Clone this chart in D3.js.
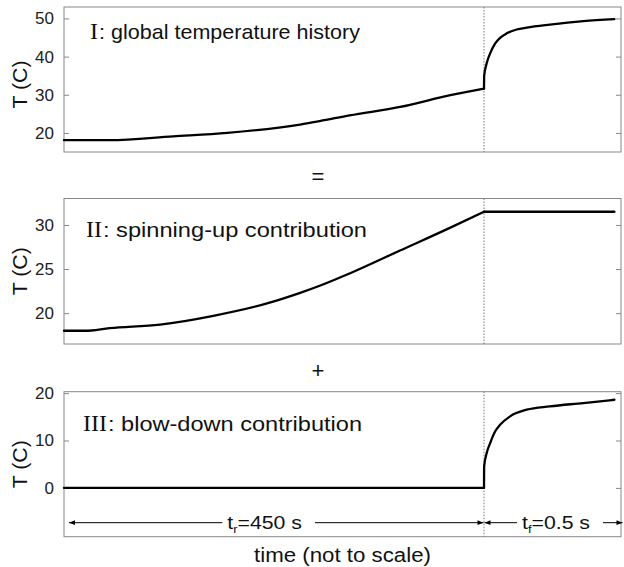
<!DOCTYPE html>
<html>
<head>
<meta charset="utf-8">
<script src="https://cdn.jsdelivr.net/npm/d3@7"></script>
<style>
  body { margin: 0; background: #fff; }
  text { font-family: "Liberation Sans", Arial, sans-serif; }
</style>
</head>
<body>
<svg id="chart" width="624" height="567"></svg>
<script>
// panel I: global temperature history
const histTime = [0, 49, 117, 175, 253, 274, 306, 360, 414, 450,
  450.0005, 450.010, 450.023, 450.042, 450.061, 450.086, 450.124, 450.162, 450.250, 450.377, 450.495];
const histTemp = [18.1, 18.1, 19.1, 20.0, 22.2, 23.1, 24.6, 26.8, 29.9, 31.6,
  34.9, 38.2, 40.8, 43.4, 44.9, 46.1, 47.1, 47.6, 48.4, 49.3, 49.8];

// panel II: spinning-up contribution
const spinTime = [0, 22.5, 49, 103, 160, 217.5, 253, 274, 306, 360, 414, 450, 450.495];
const spinTemp = [18.0, 18.0, 18.3, 18.7, 19.7, 21.1, 22.3, 23.1, 24.5, 27.1, 29.7, 31.5, 31.5];

// panel III: blow-down contribution
const blowTime = [0, 450, 450.0005, 450.010, 450.023, 450.042, 450.061, 450.099, 450.162, 450.250, 450.377, 450.495];
const blowTemp = [0, 0, 4.5, 7.3, 9.4, 11.9, 13.3, 15.1, 16.5, 17.2, 17.9, 18.6];

const histTicks = [20, 30, 40, 50];
const spinTicks = [20, 25, 30];
const blowTicks = [0, 10, 20];

const numerals = ['I', 'II', 'III'];
const titles = [': global temperature history', ': spinning-up contribution', ': blow-down contribution'];

const riseEnd = 450;     // t_r
const timeEnd = 450.52;  // end of the (not to scale) axis

const svg = d3.select('#chart');
const left = 64, right = 621;
const boxColor = '#888';
const stretch = 1.18;    // the original figure is a bit wider than tall

// piecewise x scale: the ramp and the blow-down get separate widths
const x = d3.scaleLinear()
  .domain([0, riseEnd, timeEnd])
  .range([left, 484, right]);

const panels = [
  { time: histTime, temp: histTemp, ticks: histTicks, domain: [15, 53], top: 7, bottom: 152,
    labelDy: 5, titleX: 90, titleY: 39, titleEnd: 360 },
  { time: spinTime, temp: spinTemp, ticks: spinTicks, domain: [16.5, 33], top: 198.5, bottom: 344,
    labelDy: 0, titleX: 86, titleY: 236.5, titleEnd: 367 },
  { time: blowTime, temp: blowTemp, ticks: blowTicks, domain: [-10.3, 20.3], top: 391.7, bottom: 536.7,
    labelDy: 0, titleX: 83, titleY: 430.5, titleEnd: 362 }
];

panels.forEach((p, i) => {
  let y = d3.scaleLinear().domain(p.domain).range([p.bottom, p.top]);
  let g = svg.append('g');

  // box
  g.append('rect')
    .attr('x', left).attr('y', p.top)
    .attr('width', right - left).attr('height', p.bottom - p.top)
    .attr('fill', 'none').attr('stroke', boxColor).attr('stroke-width', 1);

  // ticks inward on both sides
  let axL = d3.axisLeft(y).tickValues(p.ticks).tickSize(-5).tickPadding(10);
  let axR = d3.axisRight(y).tickValues(p.ticks).tickSize(-5).tickFormat('');
  let gl = g.append('g').attr('transform', `translate(${left},0)`).call(axL);
  let gr = g.append('g').attr('transform', `translate(${right},0)`).call(axR);
  [gl, gr].forEach(a => {
    a.select('.domain').remove();
    a.selectAll('line').attr('stroke', boxColor);
  });
  gl.selectAll('text')
    .attr('font-size', 17)
    .attr('fill', '#222');

  // dotted separator at end of spin-up
  g.append('line')
    .attr('x1', x(riseEnd)).attr('x2', x(riseEnd))
    .attr('y1', p.top).attr('y2', p.bottom)
    .attr('stroke', '#777').attr('stroke-width', 1)
    .attr('stroke-dasharray', '1.5,1.5');

  // curve, drawn as two pieces so the corner at t_r stays sharp
  let pts = p.time.map((t, k) => [t, p.temp[k]]);
  let pieces = [pts.filter(d => d[0] <= riseEnd), pts.filter(d => d[0] >= riseEnd)];
  let line = d3.line()
    .x(d => x(d[0]))
    .y(d => y(d[1]))
    .curve(d3.curveMonotoneX);
  g.selectAll('.curve')
    .data(pieces)
    .enter().append('path')
    .attr('class', 'curve')
    .attr('d', line)
    .attr('fill', 'none')
    .attr('stroke', '#000')
    .attr('stroke-width', 2.3)
    .attr('stroke-linejoin', 'round')
    .attr('stroke-linecap', 'round');

  // y label
  let cy = (p.top + p.bottom) / 2 + p.labelDy;
  g.append('text')
    .attr('transform', `translate(27,${cy}) rotate(-90)`)
    .attr('text-anchor', 'middle')
    .attr('font-size', 20)
    .attr('textLength', 48)
    .attr('lengthAdjust', 'spacingAndGlyphs')
    .attr('fill', '#111')
    .text('T (C)');

  // panel title: serif numeral, then sans text stretched to the reference width
  let num = g.append('text')
    .attr('x', p.titleX).attr('y', p.titleY)
    .style('font-family', '"Liberation Serif", "Times New Roman", serif')
    .attr('font-size', 24)
    .attr('fill', '#111')
    .text(numerals[i]);
  let numEnd = p.titleX + num.node().getComputedTextLength() + 1;
  g.append('text')
    .attr('x', numEnd).attr('y', p.titleY)
    .attr('font-size', 21)
    .attr('textLength', p.titleEnd - numEnd)
    .attr('lengthAdjust', 'spacingAndGlyphs')
    .attr('fill', '#111')
    .text(titles[i]);
});

// operators between panels
svg.append('text').attr('x', 318).attr('y', 184).attr('text-anchor', 'middle')
  .attr('font-size', 22).attr('fill', '#111').text('=');
svg.append('text').attr('x', 318).attr('y', 378).attr('text-anchor', 'middle')
  .attr('font-size', 22).attr('fill', '#111').text('+');

// duration arrows in the bottom panel
let defs = svg.append('defs');
defs.append('marker')
  .attr('id', 'head')
  .attr('viewBox', '0 0 10 10')
  .attr('refX', 10).attr('refY', 5)
  .attr('markerWidth', 7).attr('markerHeight', 6)
  .attr('markerUnits', 'userSpaceOnUse')
  .attr('orient', 'auto-start-reverse')
  .append('path')
  .attr('d', 'M0,1 L10,5 L0,9 Z')
  .attr('fill', '#000');

const arrowY = 522.7;
function durationArrow(x0, x1, frac, label, sub, value) {
  let mid = x0 + (x1 - x0) * frac;
  let txt = svg.append('g')
    .attr('transform', `translate(${mid},${arrowY + 6}) scale(${stretch},1)`)
    .append('text')
    .attr('text-anchor', 'middle')
    .attr('font-size', 18)
    .attr('fill', '#111');
  txt.append('tspan').text(label);
  txt.append('tspan').attr('font-size', 11).attr('dy', 4).text(sub);
  txt.append('tspan').attr('dy', -4).text(value);
  let half = txt.node().getBBox().width * stretch / 2;
  svg.append('line')
    .attr('x1', mid - half - 5).attr('x2', x0)
    .attr('y1', arrowY).attr('y2', arrowY)
    .attr('stroke', '#000').attr('stroke-width', 1)
    .attr('marker-end', 'url(#head)');
  svg.append('line')
    .attr('x1', mid + half + 13).attr('x2', x1)
    .attr('y1', arrowY).attr('y2', arrowY)
    .attr('stroke', '#000').attr('stroke-width', 1)
    .attr('marker-end', 'url(#head)');
}
durationArrow(x(0) + 5, x(riseEnd) - 0.5, 0.472, 't', 'r', '=450 s');
durationArrow(x(riseEnd) + 0.5, x(timeEnd) + 1.5, 0.518, 't', 'f', '=0.5 s');

// x label
svg.append('text')
  .attr('x', (left + right) / 2).attr('y', 562)
  .attr('text-anchor', 'middle')
  .attr('font-size', 20)
  .attr('textLength', 177)
  .attr('lengthAdjust', 'spacingAndGlyphs')
  .attr('fill', '#111')
  .text('time (not to scale)');
</script>
</body>
</html>
